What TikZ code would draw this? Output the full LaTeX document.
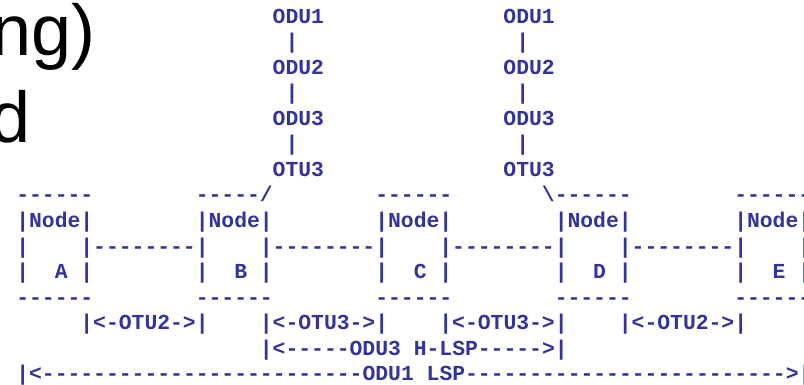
\documentclass[tikz,border=0pt]{standalone}
\usepackage{fontspec}
\newfontfamily\asciifont[Ligatures=TeXOff]{Liberation Mono}
\newfontfamily\headfont{Liberation Sans}
\definecolor{asciiblue}{HTML}{333399}
\tikzset{
  txt/.style={anchor=base west, inner sep=0pt, outer sep=0pt, text=asciiblue,
    font=\asciifont\bfseries\fontsize{16.03pt}{19pt}\selectfont},
  headline/.style={anchor=base west, inner sep=0pt, outer sep=0pt,
    font=\headfont\fontsize{54pt}{60pt}\selectfont}
}
\begin{document}
\begin{tikzpicture}[x=9.615pt,y=-19.1625pt]
            \useasboundingbox (-1.27,-0.904) rectangle (61.44,14.126);
            \clip (-1.27,-0.904) rectangle (61.44,14.126);

            \draw (-1.93,1.25) node[headline] (head1) {ng)};
            \draw (-2.03,4.69) node[headline] (head2) {d};

            \foreach \c/\s in {20/l,38/r}
                {\draw (\c,0) node[txt] (oduone\s) {ODU1};
                 \draw (\c+1,1) node[txt] (barone\s) {|};
                 \draw (\c,2) node[txt] (odutwo\s) {ODU2};
                 \draw (\c+1,3) node[txt] (bartwo\s) {|};
                 \draw (\c,4) node[txt] (oduthree\s) {ODU3};
                 \draw (\c+1,5) node[txt] (barthree\s) {|};
                 \draw (\c,6) node[txt] (otuthree\s) {OTU3};}

            \draw (0,7) node[txt] (topA) {------};
            \draw (14,7) node[txt] (topB) {-----/};
            \draw (28,7) node[txt] (topC) {------};
            \draw (41,7) node[txt] (topD) {\textbackslash------};
            \draw (56,7) node[txt] (topE) {------};

            \foreach \c/\n in {0/A,14/B,28/C,42/D,56/E}
                {\draw (\c,8) node[txt] (name\n) {|Node|};
                 \draw (\c,9) node[txt] (side\n) {|~~~~|};
                 \draw (\c,10) node[txt] (label\n) {|~~\n~|};
                 \draw (\c,11) node[txt] (bottom\n) {------};}

            \foreach \c/\s in {6/ab,20/bc,34/cd,48/de}
                {\draw (\c,9) node[txt] (link\s) {--------};}

            \foreach \c/\t/\s in {5/2/ab,19/3/bc,33/3/cd,47/2/de}
                {\draw (\c,12) node[txt] (otu\s) {|<-OTU\t->|};}

            \draw (19,13) node[txt] (hlsp) {|<-----ODU3~H-LSP----->|};
            \draw (0,14) node[txt] (lsp) {|<-------------------------ODU1~LSP------------------------->|};
        \end{tikzpicture}
\end{document}
